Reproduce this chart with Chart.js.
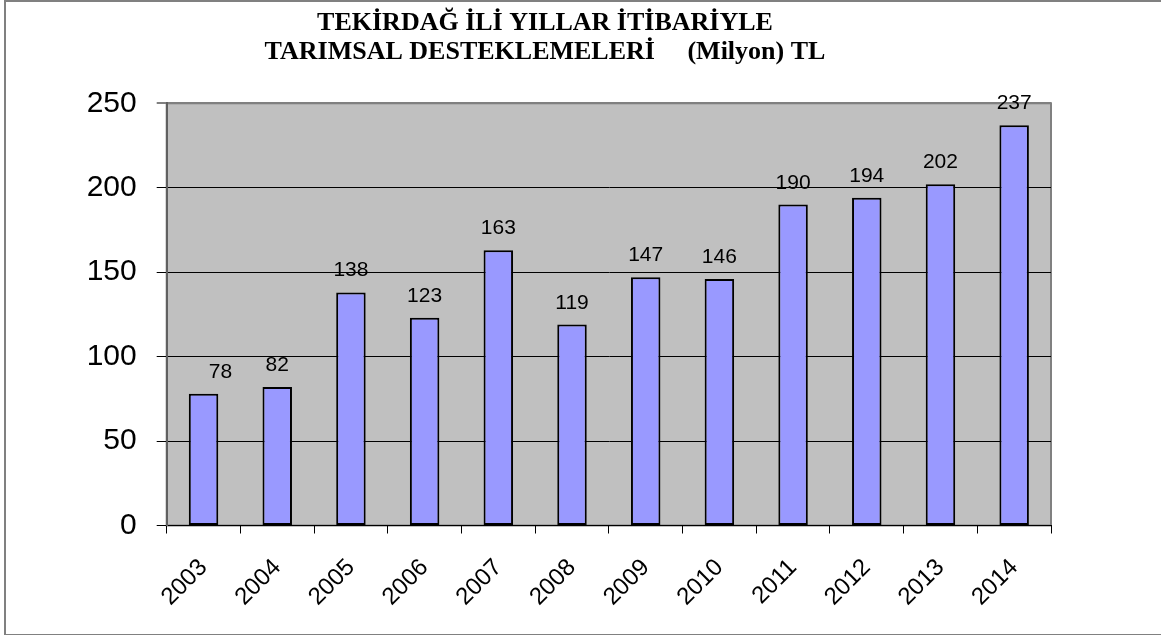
<!DOCTYPE html>
<html lang="tr">
<head>
  <meta charset="UTF-8">
  <title>Tekirdağ Tarımsal Destekler</title>
  <script src="https://cdn.jsdelivr.net/npm/chart.js"></script>
  <style>
    body { margin: 0; background: #fff; }
    .wrap { position: relative; width: 1161px; height: 635px; overflow: hidden; }
    .frame { position: absolute; left: 4px; top: 0; width: 1170px; height: 632px; border: 2px solid #808080; box-sizing: content-box; }
    canvas { position: absolute; left: 0; top: 0; }
  </style>
</head>
<body>
  <div class="wrap">
    <div class="frame"></div>
    <canvas id="chart" width="1161" height="635"></canvas>
  </div>

  <script>
    const years = ['2003', '2004', '2005', '2006', '2007', '2008', '2009', '2010', '2011', '2012', '2013', '2014'];
    const support = [78, 82, 138, 123, 163, 119, 147, 146, 190, 194, 202, 237];
    const titleLines = ['TEKİRDAĞ İLİ YILLAR İTİBARİYLE', 'TARIMSAL DESTEKLEMELERİ     (Milyon) TL'];

    // gray plot area with a thin frame
    const plotBg = {
      id: 'plotBg',
      beforeDraw(chart) {
        const { ctx, chartArea: a } = chart;
        ctx.save();
        ctx.fillStyle = '#c0c0c0';
        ctx.fillRect(a.left, a.top, a.right - a.left, a.bottom - a.top);
        ctx.strokeStyle = '#808080';
        ctx.lineWidth = 2;
        ctx.strokeRect(a.left, a.top, a.right - a.left, a.bottom - a.top);
        ctx.restore();
      }
    };

    // value labels above the bars
    const valueLabels = {
      id: 'valueLabels',
      afterDatasetsDraw(chart) {
        const { ctx } = chart;
        const meta = chart.getDatasetMeta(0);
        ctx.save();
        ctx.font = '21px "Liberation Sans", Arial, sans-serif';
        ctx.fillStyle = '#000';
        ctx.textAlign = 'center';
        ctx.textBaseline = 'alphabetic';
        meta.data.forEach((bar, i) => {
          const nudge = i === 0 ? 17 : 0; // first label sits off-centre in the original
          ctx.fillText(String(support[i]), bar.x + nudge, bar.y - 16);
        });
        ctx.restore();
      }
    };

    new Chart(document.getElementById('chart'), {
      type: 'bar',
      data: {
        labels: years,
        datasets: [{
          data: support,
          backgroundColor: '#9999ff',
          borderColor: '#000',
          borderWidth: 2,
          borderSkipped: false,
          barPercentage: 0.4,
          categoryPercentage: 1.0
        }]
      },
      options: {
        responsive: false,
        animation: false,
        layout: { padding: { left: 39, right: 110, top: 0, bottom: 0 } },
        plugins: {
          legend: { display: false },
          tooltip: { enabled: false },
          title: {
            display: true,
            text: titleLines,
            color: '#000',
            font: { family: '"Liberation Serif", "Times New Roman", serif', size: 26, weight: 'bold', lineHeight: 1.14 },
            padding: { top: 8, bottom: 36 }
          }
        },
        scales: {
          x: {
            offset: true,
            afterFit(scale) { scale.height = 109.5; },
            grid: { offset: true, drawOnChartArea: false, drawTicks: true, tickLength: 8, color: '#000', lineWidth: 1 },
            border: { color: '#000', width: 1 },
            ticks: {
              color: '#000',
              font: { family: '"Liberation Sans", Arial, sans-serif', size: 24 },
              maxRotation: 45, minRotation: 45,
              padding: 20
            }
          },
          y: {
            min: 0, max: 250,
            afterFit(scale) { scale.width = 127.7; },
            grid: {
              color: ctx => ctx.tick && ctx.tick.value === 250 ? '#808080' : '#000',
              lineWidth: ctx => ctx.tick && ctx.tick.value === 250 ? 2 : 1,
              tickLength: 10
            },
            border: { color: '#606060', width: 2 },
            ticks: {
              stepSize: 50,
              color: '#000',
              padding: 20,
              font: { family: '"Liberation Sans", Arial, sans-serif', size: 30 }
            }
          }
        }
      },
      plugins: [plotBg, valueLabels]
    });
  </script>
</body>
</html>
